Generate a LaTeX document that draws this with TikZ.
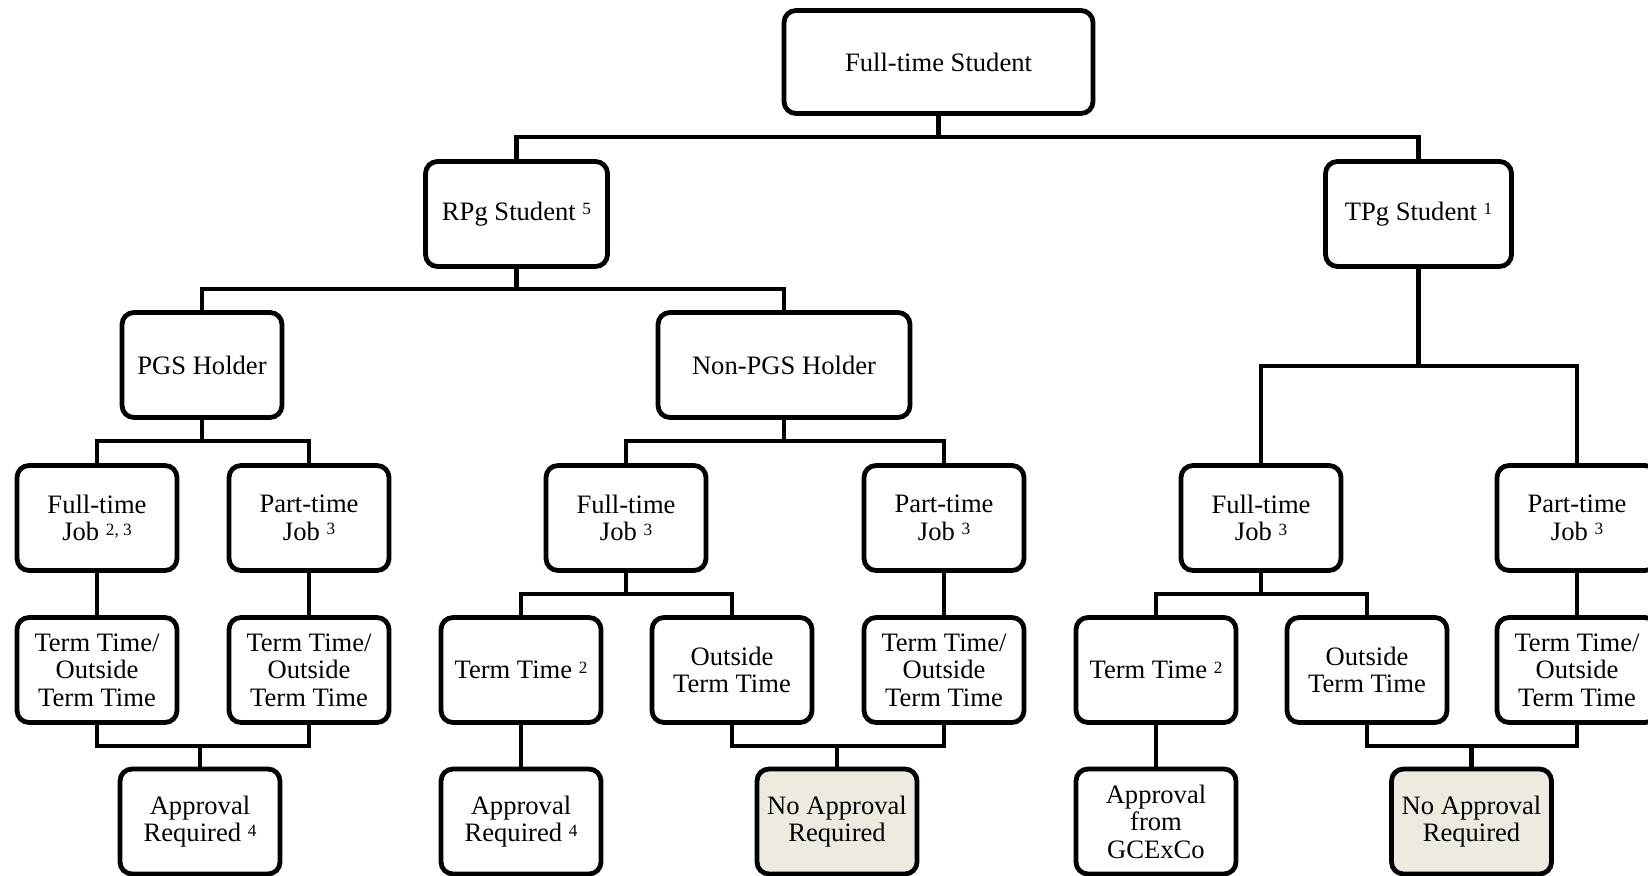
\documentclass[tikz,border=0pt]{standalone}
\usepackage{fontspec}
\setmainfont{Liberation Serif}
\definecolor{noappr}{RGB}{237,235,224}
\newcommand\fnote[1]{\raisebox{0.45ex}{\fontsize{8.6}{9}\selectfont #1}}

\begin{document}
\begin{tikzpicture}[x=0.5pt,y=-0.5pt,line width=2.1pt,
    box/.style={draw,line width=2.4pt,rounded corners=6pt,align=center,inner sep=0pt,
      minimum width=80pt,minimum height=52.5pt,font=\fontsize{13.3}{13.7}\selectfont},
    nobox/.style={box,fill=noappr}]
  \clip (0,0) rectangle (1648,876);

  \node[box,minimum width=154.5pt,minimum height=51.5pt] (fts) at (938.5,62) {Full-time Student};
  \node[box,minimum width=91pt] (rpg) at (516.5,214) {RPg Student \fnote{5}};
  \node[box,minimum width=93pt] (tpg) at (1418.5,214) {TPg Student \fnote{1}};
  \node[box] (pgs) at (202,365) {PGS Holder};
  \node[box,minimum width=126pt] (npgs) at (784,365) {Non-PGS Holder};

  \node[box] (pft) at (97,518) {Full-time\\Job \fnote{2, 3}};
  \node[box] (ppt) at (309,518) {Part-time\\Job \fnote{3}};
  \node[box] (nft) at (626,518) {Full-time\\Job \fnote{3}};
  \node[box] (npt) at (944,518) {Part-time\\Job \fnote{3}};
  \node[box] (tft) at (1261,518) {Full-time\\Job \fnote{3}};
  \node[box] (tpt) at (1577,518) {Part-time\\Job \fnote{3}};

  \node[box] (pftt) at (97,670) {Term Time/\\Outside\\Term Time};
  \node[box] (pptt) at (309,670) {Term Time/\\Outside\\Term Time};
  \node[box] (nterm) at (521,670) {Term Time \fnote{2}};
  \node[box] (nout) at (732,670) {Outside\\Term Time};
  \node[box] (nptt) at (944,670) {Term Time/\\Outside\\Term Time};
  \node[box] (tterm) at (1156,670) {Term Time \fnote{2}};
  \node[box] (tout) at (1367,670) {Outside\\Term Time};
  \node[box] (tptt) at (1577,670) {Term Time/\\Outside\\Term Time};

  \node[box] (pappr) at (200,821.5) {Approval\\Required \fnote{4}};
  \node[box] (nappr) at (521,821.5) {Approval\\Required \fnote{4}};
  \node[nobox] (nnone) at (837,821.5) {No Approval\\Required};
  \node[box] (tgc) at (1156,821.5) {Approval\\from\\GCExCo};
  \node[nobox] (tnone) at (1471.5,821.5) {No Approval\\Required};

  \coordinate (j1) at (fts.south |- 0,137);
  \coordinate (j2) at (rpg.south |- 0,289);
  \coordinate (j3) at (tpg.south |- 0,366);
  \coordinate (j4) at (pgs.south |- 0,441);
  \coordinate (j5) at (npgs.south |- 0,441);
  \coordinate (j6) at (nft.south |- 0,594);
  \coordinate (j7) at (tft.south |- 0,594);
  \coordinate (j8) at (pappr.north |- 0,746);
  \coordinate (j9) at (nnone.north |- 0,746);
  \coordinate (j10) at (tnone.north |- 0,746);

  \draw (fts) -- (j1);
  \draw (rpg.north) |- (j1) -| (tpg.north);
  \draw (rpg) -- (j2);
  \draw (pgs.north) |- (j2) -| (npgs.north);
  \draw (tpg) -- (j3);
  \draw (tft.north) |- (j3) -| (tpt.north);
  \draw (pgs) -- (j4);
  \draw (pft.north) |- (j4) -| (ppt.north);
  \draw (npgs) -- (j5);
  \draw (nft.north) |- (j5) -| (npt.north);
  \draw (pft) -- (pftt);
  \draw (ppt) -- (pptt);
  \draw (nft) -- (j6);
  \draw (nterm.north) |- (j6) -| (nout.north);
  \draw (npt) -- (nptt);
  \draw (tft) -- (j7);
  \draw (tterm.north) |- (j7) -| (tout.north);
  \draw (tpt) -- (tptt);
  \draw (pftt.south) |- (j8) -| (pptt.south);
  \draw (j8) -- (pappr);
  \draw (nterm) -- (nappr);
  \draw (nout.south) |- (j9) -| (nptt.south);
  \draw (j9) -- (nnone);
  \draw (tterm) -- (tgc);
  \draw (tout.south) |- (j10) -| (tptt.south);
  \draw (j10) -- (tnone);
\end{tikzpicture}
\end{document}
